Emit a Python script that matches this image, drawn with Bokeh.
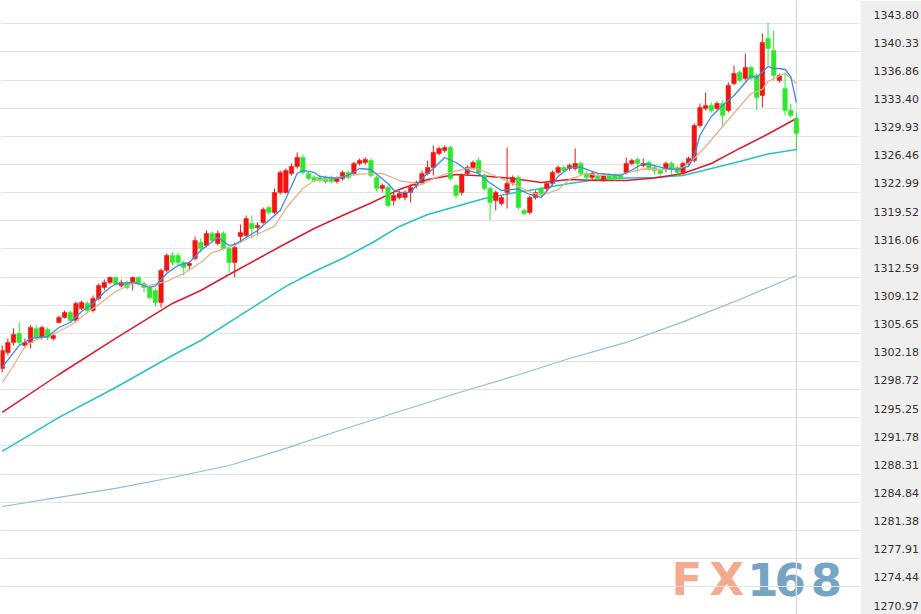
from bokeh.plotting import figure
from bokeh.models import Range1d, LinearAxis, FixedTicker, CustomJSTickFormatter, Span, Grid
from bokeh.core.properties import value
from bokeh.embed import file_html
from bokeh.resources import INLINE

opens = [1301.32, 1303.29, 1304.53, 1305.63, 1304.16, 1304.53, 1306.25, 1305.14, 1306.13, 1305.02,
         1306.99, 1307.61, 1308.22, 1307.24, 1308.71, 1309.33, 1308.47, 1309.95, 1311.30, 1311.92,
         1312.53, 1311.55, 1311.92, 1311.79, 1312.53, 1311.79, 1311.30, 1310.93, 1309.45, 1313.40,
         1315.24, 1315.24, 1314.38, 1314.01, 1314.87, 1316.85, 1316.48, 1317.95, 1316.72, 1317.95,
         1316.11, 1314.38, 1317.58, 1317.71, 1319.19, 1318.69, 1319.31, 1321.16, 1320.54, 1323.01,
         1323.01, 1325.35, 1326.21, 1327.32, 1325.35, 1324.85, 1324.85, 1324.85, 1324.85, 1324.36,
         1324.73, 1325.47, 1325.35, 1326.58, 1326.70, 1326.95, 1324.85, 1323.50, 1323.62, 1322.02,
         1322.39, 1322.39, 1323.01, 1323.87, 1324.24, 1325.35, 1326.09, 1327.81, 1328.18, 1328.55,
         1323.87, 1323.01, 1325.35, 1326.09, 1326.95, 1325.10, 1323.50, 1322.02, 1321.65, 1323.01,
         1324.24, 1324.85, 1320.79, 1320.54, 1322.39, 1323.50, 1323.50, 1324.11, 1325.47, 1326.09,
         1325.96, 1325.96, 1326.58, 1325.35, 1324.85, 1325.10, 1324.61, 1325.10, 1325.10, 1325.10,
         1325.47, 1326.58, 1327.07, 1326.33, 1326.70, 1326.09, 1325.72, 1325.96, 1326.58, 1326.09,
         1325.47, 1326.58, 1326.95, 1331.26, 1333.35, 1333.72, 1333.35, 1333.97, 1333.11, 1336.43,
         1337.79, 1337.05, 1338.41, 1337.42, 1334.96, 1341.98, 1340.50, 1336.80, 1335.82, 1333.11,
         1332.12]
closes = [1303.54, 1304.53, 1305.51, 1304.53, 1304.53, 1306.37, 1305.14, 1306.37, 1305.14, 1305.39,
          1307.61, 1308.22, 1307.24, 1309.33, 1309.45, 1308.47, 1309.95, 1311.55, 1311.92, 1312.53,
          1311.79, 1311.92, 1311.30, 1312.53, 1311.79, 1311.30, 1310.07, 1309.45, 1313.40, 1315.24,
          1314.38, 1314.38, 1313.77, 1314.26, 1317.09, 1316.11, 1317.95, 1317.09, 1317.95, 1316.11,
          1314.38, 1316.23, 1318.08, 1319.80, 1318.57, 1318.94, 1320.91, 1320.54, 1323.01, 1325.47,
          1325.72, 1326.21, 1327.32, 1325.47, 1324.73, 1324.48, 1324.48, 1324.36, 1324.36, 1324.73,
          1325.47, 1324.85, 1326.58, 1326.95, 1327.07, 1325.10, 1323.50, 1323.87, 1321.40, 1322.64,
          1322.88, 1323.01, 1323.62, 1324.24, 1325.35, 1326.09, 1327.93, 1328.43, 1328.55, 1324.73,
          1322.64, 1325.10, 1326.09, 1326.70, 1325.47, 1323.50, 1321.77, 1323.01, 1322.39, 1324.11,
          1324.85, 1321.16, 1320.42, 1322.39, 1323.01, 1322.88, 1324.11, 1325.47, 1326.09, 1325.72,
          1326.33, 1326.58, 1325.35, 1324.85, 1325.35, 1324.73, 1325.10, 1324.73, 1324.73, 1324.85,
          1326.58, 1326.95, 1326.58, 1326.58, 1325.96, 1325.72, 1325.35, 1326.58, 1325.96, 1325.47,
          1326.58, 1327.19, 1331.26, 1333.48, 1333.72, 1333.11, 1333.97, 1332.49, 1336.19, 1337.67,
          1336.80, 1338.41, 1337.05, 1334.71, 1341.49, 1340.75, 1337.42, 1337.42, 1333.11, 1332.49,
          1330.27]
highs = [1304.16, 1305.02, 1306.25, 1306.99, 1305.02, 1306.62, 1306.62, 1306.62, 1306.37, 1305.63,
         1307.85, 1308.47, 1308.47, 1309.58, 1309.70, 1309.58, 1310.32, 1311.79, 1312.29, 1312.66,
         1312.66, 1312.29, 1312.16, 1312.66, 1312.66, 1312.04, 1311.55, 1311.18, 1313.64, 1315.49,
         1315.61, 1315.61, 1314.63, 1314.50, 1317.58, 1317.34, 1318.32, 1318.20, 1318.32, 1318.20,
         1316.35, 1316.85, 1319.06, 1320.17, 1320.17, 1319.31, 1321.16, 1321.40, 1323.50, 1325.72,
         1325.96, 1326.58, 1327.93, 1327.69, 1325.59, 1325.10, 1325.10, 1325.10, 1325.10, 1324.98,
         1325.72, 1325.72, 1326.82, 1327.19, 1327.32, 1327.19, 1325.10, 1324.11, 1323.87, 1323.01,
         1323.25, 1323.25, 1323.99, 1324.48, 1325.72, 1326.95, 1328.80, 1328.67, 1328.80, 1328.80,
         1324.11, 1325.35, 1326.33, 1326.95, 1327.32, 1325.35, 1323.74, 1323.25, 1322.64, 1328.55,
         1325.10, 1325.10, 1321.03, 1322.64, 1323.25, 1323.74, 1324.36, 1325.72, 1326.33, 1326.33,
         1326.58, 1328.43, 1326.82, 1325.59, 1325.59, 1325.35, 1325.35, 1325.35, 1325.35, 1325.35,
         1327.32, 1327.19, 1327.32, 1327.19, 1326.95, 1326.33, 1325.96, 1326.82, 1326.82, 1326.33,
         1326.82, 1327.44, 1331.51, 1333.97, 1335.33, 1334.09, 1334.22, 1334.34, 1336.56, 1338.65,
         1338.04, 1340.13, 1338.65, 1337.67, 1342.59, 1343.95, 1342.96, 1337.67, 1337.79, 1333.97,
         1332.86]
lows = [1300.83, 1302.92, 1304.16, 1304.16, 1303.79, 1303.79, 1304.90, 1304.90, 1304.77, 1304.77,
        1306.87, 1307.48, 1307.11, 1306.99, 1308.47, 1308.22, 1308.22, 1309.70, 1310.93, 1311.67,
        1311.55, 1311.30, 1311.06, 1310.93, 1311.55, 1310.69, 1309.82, 1308.96, 1308.84, 1313.15,
        1314.01, 1314.13, 1312.78, 1313.40, 1314.63, 1315.61, 1316.23, 1316.85, 1316.48, 1315.86,
        1313.15, 1312.53, 1316.85, 1317.46, 1317.34, 1317.71, 1319.06, 1320.30, 1320.30, 1322.76,
        1322.88, 1325.10, 1325.96, 1325.22, 1324.48, 1324.24, 1324.24, 1324.11, 1324.11, 1324.11,
        1324.48, 1324.61, 1325.10, 1326.33, 1326.46, 1324.85, 1323.13, 1323.01, 1321.16, 1321.40,
        1322.14, 1322.02, 1321.77, 1323.50, 1323.99, 1325.10, 1325.10, 1327.56, 1327.93, 1324.48,
        1322.27, 1322.64, 1325.10, 1325.84, 1325.22, 1323.25, 1319.56, 1320.79, 1321.40, 1321.03,
        1323.87, 1320.91, 1320.17, 1320.30, 1322.14, 1322.51, 1323.25, 1323.87, 1325.22, 1325.47,
        1325.72, 1325.72, 1325.10, 1324.61, 1324.61, 1324.48, 1324.36, 1324.48, 1324.48, 1324.61,
        1325.22, 1326.33, 1325.47, 1326.09, 1325.72, 1325.22, 1325.10, 1325.47, 1325.22, 1325.22,
        1325.22, 1326.33, 1326.70, 1331.01, 1333.11, 1332.86, 1333.11, 1331.26, 1332.86, 1336.19,
        1336.56, 1336.80, 1336.80, 1333.11, 1333.48, 1338.65, 1336.80, 1336.56, 1332.49, 1332.25,
        1328.18]

ma5_idx = [0, 3, 5, 8, 10, 12, 14, 16, 17, 19, 20, 23, 24, 26, 27, 29, 31, 33, 35, 38,
           40, 41, 43, 45, 47, 49, 50, 52, 53, 55, 56, 59, 61, 63, 65, 68, 69, 70, 72, 74,
           76, 78, 80, 82, 84, 86, 88, 91, 93, 95, 97, 98, 100, 102, 105, 109, 111, 113, 115, 117,
           119, 121, 122, 123, 124, 125, 127, 129, 131, 132, 133, 135, 136, 137, 138, 139, 140]
ma5 = [1301.45, 1304.16, 1305.02, 1305.26, 1306.37, 1306.99, 1308.34, 1309.33, 1310.07, 1311.30,
       1311.73, 1311.92, 1311.79, 1311.30, 1311.49, 1313.03, 1314.01, 1314.38, 1315.86, 1317.46,
       1316.48, 1316.60, 1317.46, 1318.32, 1319.56, 1320.79, 1322.27, 1325.35, 1325.72, 1325.47,
       1324.98, 1324.73, 1325.10, 1325.96, 1325.84, 1324.11, 1323.31, 1323.01, 1323.01, 1324.73,
       1325.96, 1327.32, 1326.70, 1325.72, 1325.35, 1324.18, 1323.25, 1323.44, 1322.76, 1322.39,
       1323.99, 1324.98, 1326.09, 1326.09, 1325.35, 1325.10, 1325.78, 1326.58, 1326.33, 1325.96,
       1325.84, 1326.21, 1327.56, 1330.03, 1331.26, 1332.37, 1333.72, 1334.96, 1336.56, 1337.42,
       1337.17, 1338.53, 1338.28, 1338.28, 1338.16, 1337.30, 1334.09]

ma10_idx = [0, 2, 4, 6, 9, 12, 15, 17, 20, 23, 26, 29, 32, 35, 37, 41, 44, 48, 50, 53,
            55, 59, 63, 67, 70, 74, 76, 79, 82, 84, 88, 91, 93, 95, 98, 100, 103, 105, 109, 113,
            117, 120, 122, 124, 127, 130, 132, 134, 135, 137, 138, 140]
ma10 = [1299.60, 1301.69, 1304.03, 1304.89, 1305.51, 1306.62, 1308.22, 1309.21, 1310.81, 1311.79,
        1311.55, 1312.04, 1313.03, 1314.38, 1315.61, 1316.48, 1317.58, 1318.82, 1321.03, 1323.50,
        1324.48, 1324.85, 1325.28, 1325.35, 1324.48, 1323.99, 1324.73, 1325.47, 1325.96, 1325.90,
        1324.73, 1323.75, 1323.07, 1322.64, 1323.37, 1324.61, 1325.35, 1325.10, 1325.22, 1325.90,
        1325.84, 1326.09, 1327.19, 1328.67, 1331.14, 1333.60, 1335.20, 1335.70, 1336.68, 1337.36,
        1337.67, 1336.43]

slow_idx = [0, 10, 20, 30, 35, 40, 45, 50, 55, 60, 65, 70, 75, 80, 85, 90, 95, 100,
            105, 110, 115, 120, 125, 130, 135, 140]
ma_red = [1295.90, 1300.58, 1305.02, 1309.33, 1310.93, 1312.90, 1314.81, 1316.72, 1318.57, 1320.17,
          1321.71, 1323.38, 1324.61, 1325.22, 1325.04, 1324.73, 1324.24, 1324.61,
          1324.48, 1324.48, 1324.79, 1325.35, 1326.58, 1328.43, 1330.21, 1332.12]
ma_cyan = [1291.10, 1295.29, 1298.98, 1302.92, 1304.77, 1306.99, 1309.21, 1311.44, 1313.27, 1314.87,
           1316.72, 1318.82, 1320.30, 1321.28, 1322.27, 1322.94, 1323.50, 1324.11,
           1324.61, 1324.79, 1324.85, 1325.10, 1325.96, 1326.82, 1327.75, 1328.30]

long_idx = [0, 10, 20, 30, 40, 50, 60, 70, 80, 90, 100, 110, 120, 130, 140]
ma_long = [1284.32, 1285.43, 1286.54, 1287.89, 1289.37, 1291.47, 1293.81, 1296.02, 1298.24, 1300.34,
           1302.55, 1304.53, 1307.06, 1309.82, 1312.78]

tick_labels = ["1343.80", "1340.33", "1336.86", "1333.40", "1329.93", "1326.46", "1322.99",
               "1319.52", "1316.06", "1312.59", "1309.12", "1305.65", "1302.18", "1298.72",
               "1295.25", "1291.78", "1288.31", "1284.84", "1281.38", "1277.91", "1274.44",
               "1270.97"]

watermark = ["F", "X", "1", "6", "8"]
wm_x = [120.7, 127.75, 134.1, 138.9, 145.3]
wm_colors = ["#f5a98e", "#f5a98e", "#76a4c5", "#76a4c5", "#76a4c5"]

RED = "#f2140f"
GREEN = "#2ee82e"

grid_vals = [float(s) for s in tick_labels]
label_off = 1.13

p = figure(width=921, height=614, output_backend="svg", toolbar_location=None,
           x_range=Range1d(-0.3, 151.3), y_range=Range1d(1271.01, 1346.66),
           x_axis_type=None, y_axis_type=None,
           min_border_left=0, min_border_top=0, min_border_bottom=0, min_border_right=59)
p.outline_line_color = None
p.background_fill_color = "white"
p.border_fill_color = "#efefef"

p.add_layout(Grid(dimension=1, ticker=FixedTicker(ticks=grid_vals),
                  grid_line_color="#e4e4e4", grid_line_width=1))

yaxis = LinearAxis(ticker=FixedTicker(ticks=[v + label_off for v in grid_vals], minor_ticks=[]),
                   formatter=CustomJSTickFormatter(args=dict(off=label_off),
                                                   code="return (tick - off).toFixed(2);"),
                   axis_line_color=None, major_tick_line_color=None, minor_tick_line_color=None,
                   major_label_text_font="DejaVu Sans", major_label_text_font_size="11px",
                   major_label_text_color="#333333", major_label_standoff=7)
p.add_layout(yaxis, "right")

idx = list(range(len(opens)))
p.add_layout(Span(location=idx[-1], dimension="height", line_color="#dcdcdc",
                  line_width=1.5, level="underlay"))

# watermark
p.text(x=wm_x, y=[1275.33] * len(watermark), text=watermark, text_color=wm_colors,
       text_font=value("DejaVu Sans"), text_font_style="bold", text_font_size="45px",
       text_align="center", text_baseline="middle", level="underlay")

# moving averages
p.line(long_idx, ma_long, line_color="#8fbcd8", line_width=1.2)
p.line(slow_idx, ma_cyan, line_color="#22c3c6", line_width=1.5)
p.line(slow_idx, ma_red, line_color="#dc1a2e", line_width=1.5)

colors = [RED if c >= o else GREEN for o, c in zip(opens, closes)]
tops = [max(o, c) for o, c in zip(opens, closes)]
bots = [min(o, c) for o, c in zip(opens, closes)]
p.segment(x0=idx, y0=lows, x1=idx, y1=highs, line_color=colors, line_width=1)
p.vbar(x=idx, width=0.8, top=tops, bottom=bots, fill_color=colors, line_color=colors, line_width=0.5)

p.line(ma10_idx, ma10, line_color="#e6b08c", line_width=1.3)
p.line(ma5_idx, ma5, line_color="#3a8ee0", line_width=1.3)

open("out.html", "w").write(file_html(p, INLINE))
